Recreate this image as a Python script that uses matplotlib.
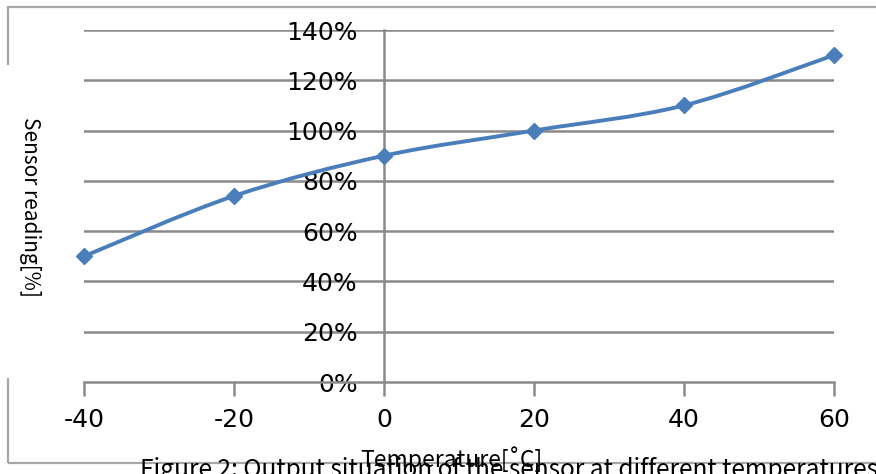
import matplotlib
matplotlib.use('Agg')
import matplotlib.pyplot as plt
from matplotlib.path import Path
from matplotlib.patches import PathPatch, Rectangle
from matplotlib.ticker import PercentFormatter
import numpy as np

# ── Data ────────────────────────────────────────────────────────────────
temps    = [-40, -20, 0, 20, 40, 60]
readings = [0.50, 0.74, 0.90, 1.00, 1.10, 1.30]
x_ticks  = [-40, -20, 0, 20, 40, 60]
y_ticks  = [0.0, 0.2, 0.4, 0.6, 0.8, 1.0, 1.2, 1.4]

X_LABEL = 'Temperature[˚C]'
Y_LABEL = 'Sensor reading[%]'
CAPTION = 'Figure 2: Output situation of the sensor at different temperatures'

# ── Style ───────────────────────────────────────────────────────────────
W, H       = 876, 474
LINE_COL   = '#4a7ebb'
GRID_COL   = '#8a8a8a'
FRAME_COL  = '#a6a6a6'
TEXT_FONT  = ['Noto Sans CJK SC', 'DejaVu Sans']

plt.rcParams['axes.unicode_minus'] = False


def smooth_path(xs, ys, tension=1 / 6):
    # Excel-like smoothed line: Catmull-Rom segments as cubic Bezier
    pts = np.column_stack([xs, ys]).astype(float)
    verts, codes = [pts[0]], [Path.MOVETO]
    n = len(pts)
    for i in range(n - 1):
        p0 = pts[max(i - 1, 0)]
        p1 = pts[i]
        p2 = pts[i + 1]
        p3 = pts[min(i + 2, n - 1)]
        c1 = p1 + (p2 - p0) * tension
        c2 = p2 - (p3 - p1) * tension
        verts += [c1, c2, p2]
        codes += [Path.CURVE4] * 3
    return Path(verts, codes)


fig = plt.figure(figsize=(W / 100, H / 100), dpi=100)
ax = fig.add_axes([84 / W, 1 - 382 / H, 750 / W, 352 / H])

# outer frame
fig.patches.append(Rectangle((8 / W, 1 - 463 / H), 1.0, 456 / H,
                             transform=fig.transFigure, fill=False,
                             edgecolor=FRAME_COL, linewidth=1.6, zorder=0))
# white patch behind the y label (hides part of the frame)
fig.patches.append(Rectangle((0, 1 - 378 / H), 72 / W, 313 / H,
                             transform=fig.transFigure, facecolor='white',
                             edgecolor='none', zorder=1))

ax.set_xlim(-40, 60)
ax.set_ylim(0, 1.4)
ax.patch.set_alpha(0)

for y in y_ticks[1:]:
    ax.axhline(y, color=GRID_COL, linewidth=1.8, zorder=1)

for side in ['top', 'right']:
    ax.spines[side].set_visible(False)
ax.spines['left'].set_position(('data', 0))
ax.spines['left'].set_color(GRID_COL)
ax.spines['left'].set_linewidth(1.8)
ax.spines['bottom'].set_color(GRID_COL)
ax.spines['bottom'].set_linewidth(1.8)

ax.set_xticks(x_ticks)
ax.set_yticks(y_ticks)
ax.yaxis.set_major_formatter(PercentFormatter(1.0, decimals=0))
ax.tick_params(axis='x', direction='out', length=10, width=1.8,
               color=GRID_COL, labelsize=18, pad=9)
ax.tick_params(axis='y', length=0, labelsize=18, pad=19)

ax.add_patch(PathPatch(smooth_path(temps, readings), facecolor='none',
                       edgecolor=LINE_COL, linewidth=2.8, zorder=3,
                       clip_on=False))
ax.plot(temps, readings, linestyle='none', marker='D', markersize=8,
        color=LINE_COL, zorder=4, clip_on=False)

fig.text(30 / W, 1 - 207 / H, Y_LABEL, rotation=-90, ha='center',
         va='center', fontsize=15, family=TEXT_FONT, zorder=2)
fig.text(451 / W, 1 - 459 / H, X_LABEL, ha='center', va='center',
         fontsize=16.5, family=TEXT_FONT, zorder=3)
fig.text(140 / W, 1 - 477 / H, CAPTION, ha='left', va='baseline',
         fontsize=17.6, family=TEXT_FONT, zorder=3)

fig.savefig('out.png', dpi=100)
